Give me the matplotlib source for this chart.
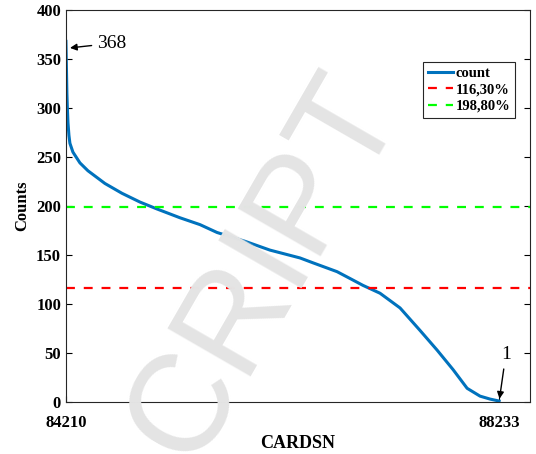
import matplotlib
matplotlib.use('Agg')
from matplotlib import pyplot as plt
import numpy as np

# sorted card serial numbers vs. record counts
cardsn = [84210, 84214, 84219, 84224, 84229, 84238, 84247, 84275, 84340, 84414, 84572, 84730,
          84898, 85055, 85269, 85455, 85613, 85873, 86105, 86384, 86505, 86728,
          86849, 86969, 87127, 87313, 87499, 87657, 87806, 87936, 88056, 88149, 88233]
counts = [368, 345, 315, 298, 285, 272, 264, 255, 244, 236, 223, 213,
          204, 197, 188, 181, 173, 164, 155, 147, 142, 133,
          126, 119, 111, 96, 73, 53, 33, 14, 6, 3, 1]
level_30 = 116.3
level_80 = 198.8
xticks = [84210, 88233]
yticks = [0, 50, 100, 150, 200, 250, 300, 350, 400]

plt.rcParams['font.family'] = ['Liberation Serif', 'DejaVu Serif']

fig = plt.figure(figsize=(5.36, 4.54), dpi=100)
ax = fig.add_axes([0.123, 0.1145, 0.866, 0.8635])

ax.plot(cardsn, counts, color='#0072BD', lw=2.2, label='count', zorder=2)

# watermark
fig.text(0.495, 0.41, 'CRIPT', family='Liberation Sans', fontsize=100,
         color='#e4e4e4', rotation=60, ha='center', va='center', zorder=3)

ax.axhline(level_30, color='#FF0000', ls=(0, (4, 4)), lw=1.6, label='116,30%', zorder=4)
ax.axhline(level_80, color='#00FF00', ls=(0, (4, 4)), lw=1.6, label='198,80%', zorder=4)

ax.annotate('368', xy=(84222, 361), xytext=(84500, 366), fontsize=14,
            va='center', ha='left',
            arrowprops=dict(arrowstyle='-|>', color='black', lw=1, mutation_scale=10))
ax.annotate('1', xy=(88233, 0.5), xytext=(88295, 48), fontsize=14,
            va='center', ha='center',
            arrowprops=dict(arrowstyle='-|>', color='black', lw=1, mutation_scale=10))

ax.set_xlim(84210, 88521)
ax.set_ylim(0, 400)
ax.set_xticks(xticks)
ax.set_yticks(yticks)
ax.tick_params(direction='in', right=True, top=False, labelsize=12, length=4)
ax.tick_params(axis='x', pad=9)
for lab in ax.get_xticklabels() + ax.get_yticklabels():
    lab.set_fontweight('bold')
for s in ax.spines.values():
    s.set_color('#262626')
    s.set_zorder(5)

ax.set_xlabel('CARDSN', fontsize=13, fontweight='bold', labelpad=3)
ax.set_ylabel('Counts', fontsize=12, fontweight='bold', labelpad=4)

leg = ax.legend(loc='upper right', bbox_to_anchor=(0.968, 0.867), borderaxespad=0,
                fancybox=False, edgecolor='#262626', framealpha=1, handlelength=1.7,
                prop={'weight': 'bold', 'size': 10.5}, borderpad=0.35, labelspacing=0.2,
                handletextpad=0.15)
leg.set_zorder(6)
leg.get_frame().set_linewidth(0.8)

fig.savefig('out.png', dpi=100)
